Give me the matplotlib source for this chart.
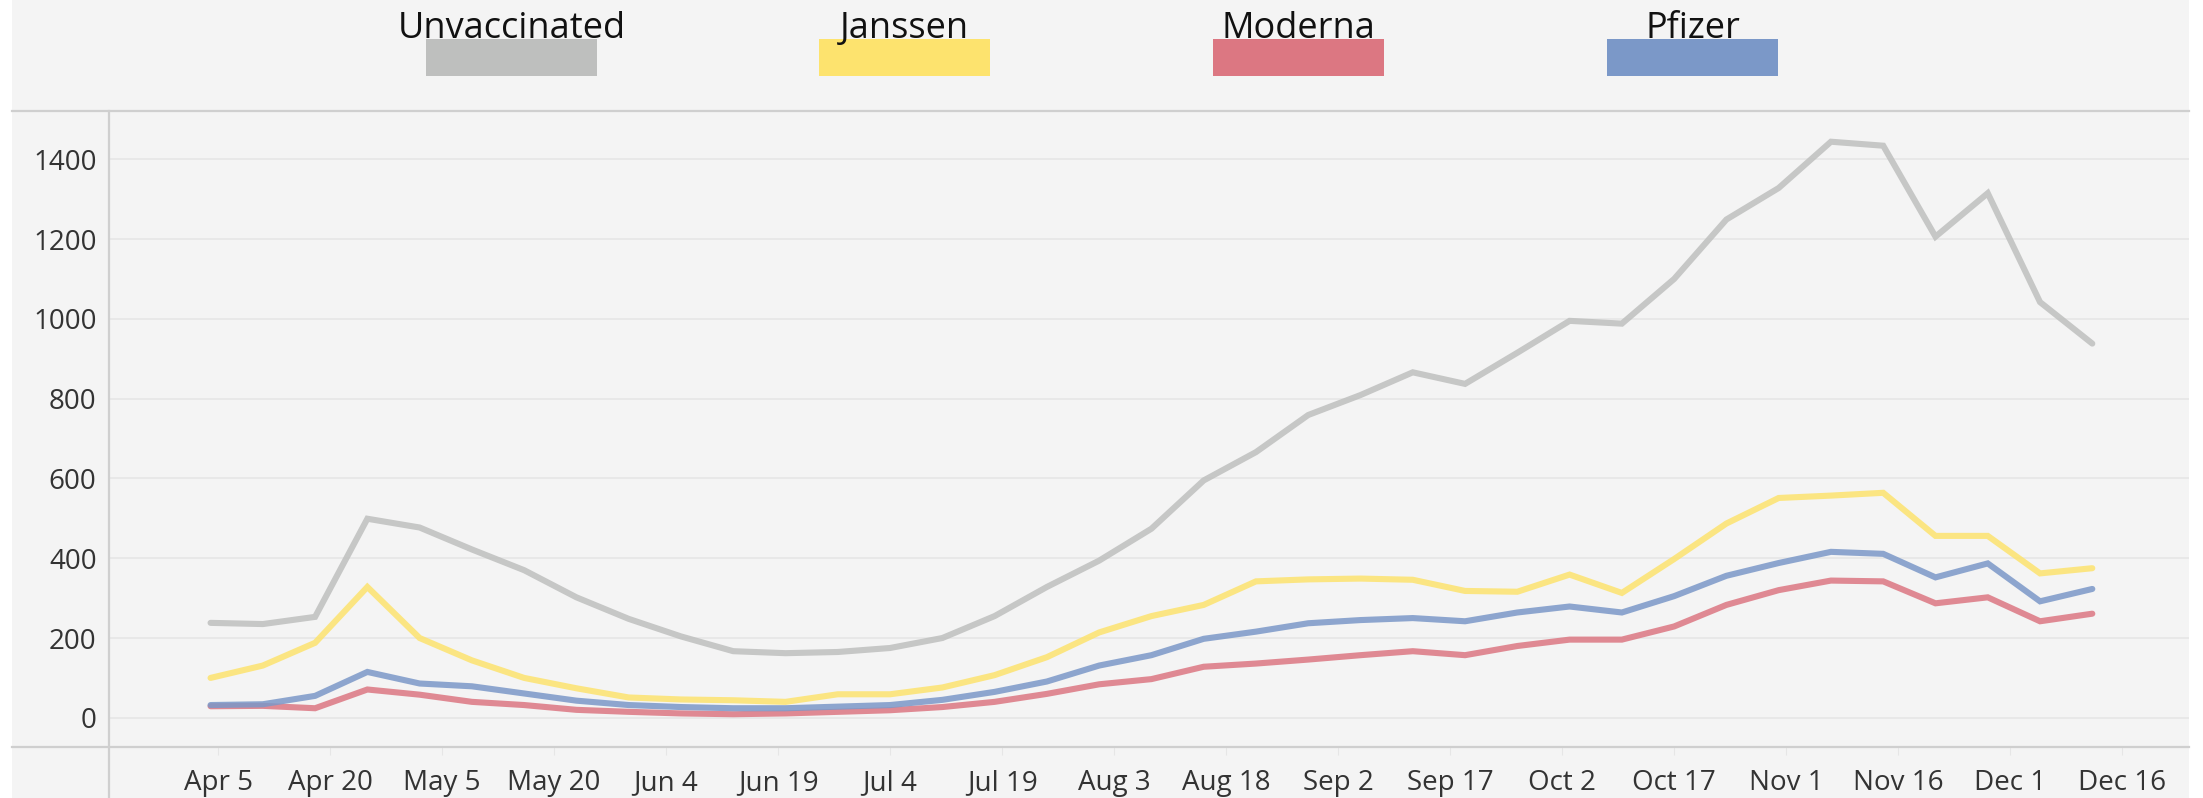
import datetime
import matplotlib
matplotlib.use("Agg")
import matplotlib.pyplot as plt
import matplotlib.dates as mdates
import pandas as pd
from matplotlib.patches import Rectangle
from matplotlib.lines import Line2D

plt.rcParams['font.family'] = ['Open Sans', 'DejaVu Sans']

# ---------------- data ----------------
weeks = pd.date_range("2021-04-04", periods=37, freq="7D")

unvaccinated = [238, 235, 253, 499, 477, 422, 370, 302, 248, 204, 167, 162, 165, 175, 200, 255, 328, 394,
                474, 595, 666, 759, 809, 866, 837, 915, 995, 988, 1100, 1249, 1328, 1444, 1434, 1206, 1315, 1042, 938]
janssen = [100, 131, 188, 328, 200, 144, 100, 74, 51, 46, 44, 40, 59, 59, 76, 107, 152, 214,
           255, 283, 342, 347, 349, 346, 318, 316, 359, 313, 398, 487, 551, 557, 564, 456, 456, 362, 375]
moderna = [29, 30, 24, 71, 58, 40, 32, 20, 15, 11, 9, 11, 15, 19, 27, 40, 60, 84,
           97, 128, 136, 146, 157, 167, 157, 180, 196, 196, 229, 283, 320, 344, 342, 287, 302, 242, 261]
pfizer = [32, 34, 55, 115, 86, 79, 61, 43, 32, 27, 24, 24, 28, 32, 45, 65, 91, 131,
          157, 198, 216, 237, 245, 250, 242, 264, 279, 264, 305, 356, 388, 416, 411, 352, 387, 292, 323]

series_names = ["Unvaccinated", "Janssen", "Moderna", "Pfizer"]
series_values = [unvaccinated, janssen, moderna, pfizer]
series_colors = ["#BEBFBE", "#FDE36E", "#DC7782", "#7B98C8"]

tick_labels = ["Apr 5", "Apr 20", "May 5", "May 20", "Jun 4", "Jun 19", "Jul 4", "Jul 19", "Aug 3",
               "Aug 18", "Sep 2", "Sep 17", "Oct 2", "Oct 17", "Nov 1", "Nov 16", "Dec 1", "Dec 16"]
y_ticks = [0, 200, 400, 600, 800, 1000, 1200, 1400]

# ---------------- layout ----------------
W, H = 2203, 798
fig = plt.figure(figsize=(W / 100, H / 100), dpi=100, facecolor="white")

def fx(px):
    return px / W

def fy(py):
    return 1 - py / H

# panel background
fig.add_artist(Rectangle((fx(12), 0), fx(2189) - fx(12), 1, transform=fig.transFigure,
                         facecolor="#F4F4F4", edgecolor="none", zorder=0))

ax = fig.add_axes([fx(109), fy(746.7), fx(2189) - fx(109), fy(111) - fy(746.7)])
ax.set_facecolor("none")

for vals, col in zip(series_values, series_colors):
    ax.plot(weeks, vals, color=col, lw=4.4, alpha=0.85, solid_joinstyle="miter",
            solid_capstyle="round", zorder=3)

base = mdates.date2num(datetime.datetime(2021, 4, 5))
tick_pos = [base + 15 * i for i in range(len(tick_labels))]
ax.set_xticks(tick_pos)
ax.set_xticklabels(tick_labels)
ax.set_xlim(base - 14.6, base + 263.95)
ax.set_ylim(-72.4, 1521)
ax.set_yticks(y_ticks)
ax.set_yticklabels([str(v) for v in y_ticks])

ax.grid(axis="y", color="#E8E8E8", lw=1.4, zorder=1)
ax.grid(axis="x", visible=False)
for s in ax.spines.values():
    s.set_visible(False)
ax.tick_params(axis="y", length=0, pad=9, labelsize=20, labelcolor="#333333")
ax.tick_params(axis="x", length=6, color="#E6E6E6", pad=10, labelsize=20, labelcolor="#333333")

# frame lines
line_col = "#CFCFCF"
fig.add_artist(Line2D([fx(12), fx(2189)], [fy(111), fy(111)], transform=fig.transFigure,
                      color=line_col, lw=1.6, zorder=5))
fig.add_artist(Line2D([fx(12), fx(2189)], [fy(746.7), fy(746.7)], transform=fig.transFigure,
                      color=line_col, lw=1.6, zorder=5))
fig.add_artist(Line2D([fx(109), fx(109)], [fy(111), 0], transform=fig.transFigure,
                      color=line_col, lw=1.6, zorder=5))

# legend: swatch with label on top
legend_x0 = [426, 819, 1213, 1607]
sw_w = 171
for name, col, x0 in zip(series_names, series_colors, legend_x0):
    fig.add_artist(Rectangle((fx(x0), fy(76)), fx(sw_w), fy(39) - fy(76), transform=fig.transFigure,
                             facecolor=col, edgecolor="none", zorder=2))
    fig.text(fx(x0 + sw_w / 2), fy(38), name, ha="center", va="baseline", fontsize=26,
             color="#111111", zorder=3)

fig.savefig("out.png", dpi=100, facecolor="white")
